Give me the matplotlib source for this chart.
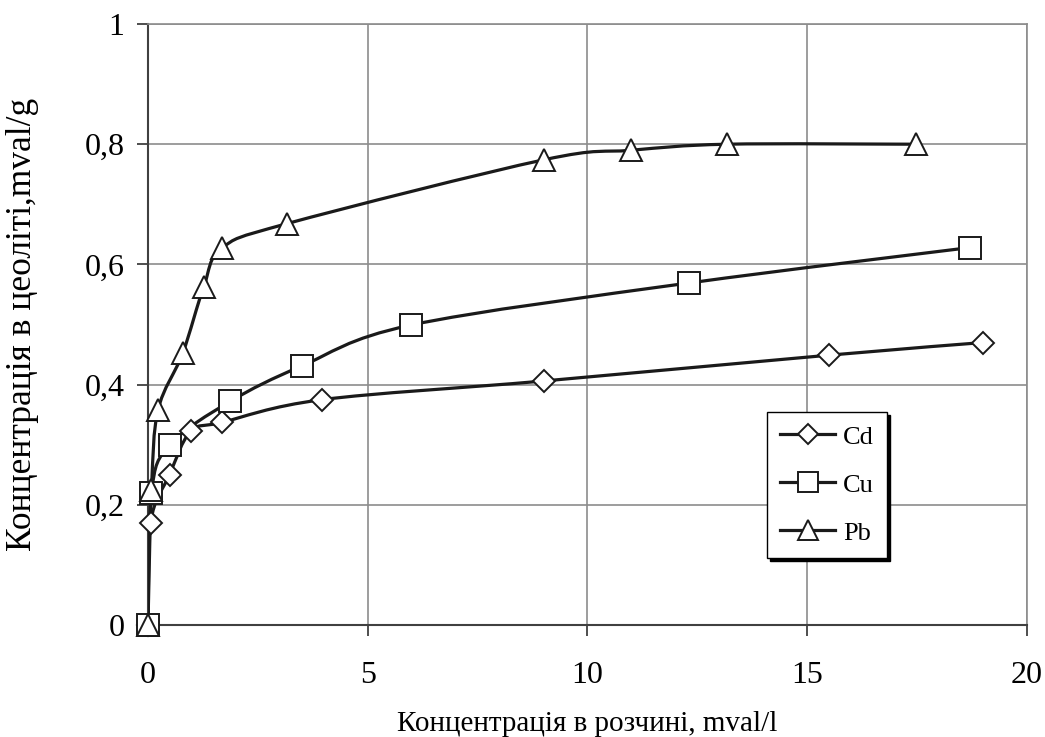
import matplotlib
matplotlib.use("Agg")
import matplotlib.pyplot as plt
from matplotlib.path import Path
from matplotlib.patches import PathPatch
from matplotlib.lines import Line2D

# data
cd_x = [0, 0.06, 0.49, 0.97, 1.68, 3.97, 9.0, 15.5, 19.0]
cd_y = [0, 0.17, 0.25, 0.322, 0.337, 0.375, 0.406, 0.449, 0.47]

cu_x = [0, 0.08, 0.5, 1.87, 3.5, 5.98, 12.3, 18.7]
cu_y = [0, 0.22, 0.30, 0.372, 0.431, 0.499, 0.569, 0.628]

pb_x = [0, 0.08, 0.23, 0.79, 1.27, 1.68, 3.17, 9.0, 11.0, 13.17, 17.47]
pb_y = [0, 0.225, 0.358, 0.452, 0.563, 0.627, 0.668, 0.774, 0.79, 0.80, 0.80]

x_ticks = [0, 5, 10, 15, 20]
y_ticks = [0, 0.2, 0.4, 0.6, 0.8, 1.0]
y_tick_labels = ["0", "0,2", "0,4", "0,6", "0,8", "1"]

LINE_COLOR = "#1a1a1a"
FONT = ["Liberation Serif", "DejaVu Serif"]


def smooth_path(xs, ys):
    # Excel style smoothed line: bezier segments through every point
    pts = list(zip(xs, ys))
    n = len(pts)
    verts = [pts[0]]
    codes = [Path.MOVETO]
    for i in range(n - 1):
        p0 = pts[i - 1] if i > 0 else pts[i]
        p1 = pts[i]
        p2 = pts[i + 1]
        p3 = pts[i + 2] if i + 2 < n else pts[i + 1]
        c1 = (p1[0] + (p2[0] - p0[0]) / 6, p1[1] + (p2[1] - p0[1]) / 6)
        c2 = (p2[0] - (p3[0] - p1[0]) / 6, p2[1] - (p3[1] - p1[1]) / 6)
        verts += [c1, c2, p2]
        codes += [Path.CURVE4] * 3
    return Path(verts, codes)


def draw_series(ax, xs, ys, marker, ms):
    patch = PathPatch(smooth_path(xs, ys), facecolor="none",
                      edgecolor=LINE_COLOR, lw=2.3, zorder=3)
    ax.add_patch(patch)
    ax.plot(xs, ys, ls="none", marker=marker, ms=ms, mfc="white",
            mec=LINE_COLOR, mew=1.4, zorder=4, clip_on=False)


fig = plt.figure(figsize=(10.45, 7.37), dpi=100)
ax = fig.add_axes([0.1416, 0.152, 0.8412, 0.8154])

draw_series(ax, cd_x, cd_y, "D", 11)
draw_series(ax, cu_x, cu_y, "s", 15.5)
draw_series(ax, pb_x, pb_y, "^", 16)

ax.set_xlim(0, 20)
ax.set_ylim(0, 1)
ax.set_xticks(x_ticks)
ax.set_yticks(y_ticks)
ax.set_yticklabels(y_tick_labels)
ax.grid(True, color="#8c8c8c", lw=1.2, zorder=0)
ax.set_axisbelow(True)

for side in ["left", "bottom"]:
    ax.spines[side].set_color("#404040")
    ax.spines[side].set_linewidth(1.5)
for side in ["top", "right"]:
    ax.spines[side].set_color("#8c8c8c")
    ax.spines[side].set_linewidth(1.2)

ax.tick_params(direction="out", length=8, width=1.3, color="#404040",
               labelsize=23)
ax.tick_params(axis="x", pad=18)
ax.tick_params(axis="y", pad=9)
for lbl in ax.get_xticklabels() + ax.get_yticklabels():
    lbl.set_family(FONT)

ax.set_xlabel("Концентрація в розчині, mval/l", family=FONT, fontsize=21,
              labelpad=15)
ax.set_ylabel("Концентрація в цеоліті,mval/g", family=FONT, fontsize=25.5)
ax.yaxis.set_label_coords(-0.124, 0.5)

handles = [
    Line2D([], [], color=LINE_COLOR, lw=2.3, marker="D", ms=10, mfc="white",
           mec=LINE_COLOR, mew=1.4),
    Line2D([], [], color=LINE_COLOR, lw=2.3, marker="s", ms=14.5, mfc="white",
           mec=LINE_COLOR, mew=1.4),
    Line2D([], [], color=LINE_COLOR, lw=2.3, marker="^", ms=14, mfc="white",
           mec=LINE_COLOR, mew=1.4),
]
leg = ax.legend(handles, ["Cd", "Cu", "Pb"], loc="upper left",
                bbox_to_anchor=(767 / 1045, 1 - 412 / 737),
                bbox_transform=fig.transFigure, fancybox=False,
                shadow={"color": "black", "alpha": 1}, framealpha=1,
                edgecolor="black", prop={"family": FONT, "size": 19},
                handlelength=2.08, handletextpad=0.3, labelspacing=0.93,
                borderpad=0.5, borderaxespad=0)
leg.get_frame().set_linewidth(1.0)

fig.savefig("out.png", dpi=100)
